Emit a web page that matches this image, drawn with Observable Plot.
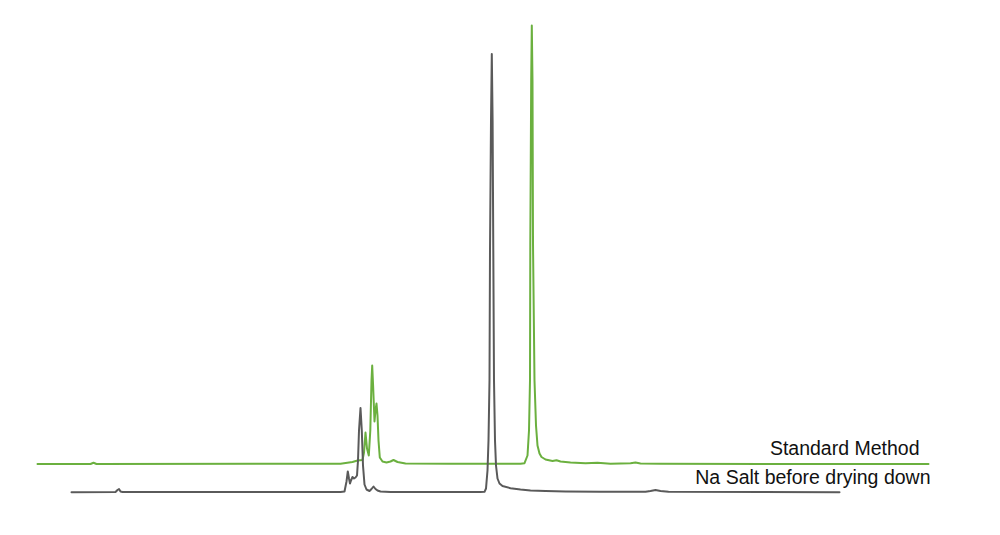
<!DOCTYPE html>
<html>
<head>
<meta charset="utf-8">
<script src="https://cdn.jsdelivr.net/npm/d3@7"></script>
<script src="https://cdn.jsdelivr.net/npm/@observablehq/plot@0.6"></script>
<style>
  html, body { margin: 0; padding: 0; background: #fff; }
  #chart svg { display: block; }
</style>
</head>
<body>
<div id="chart"></div>
<script>
// Series labels
const seriesNames = ["Standard Method", "Na Salt before drying down"];

// Standard Method trace: retention time (s) and detector signal (mV, stacked display)
const standardTime = [
  37, 90, 93, 96, 340, 352, 357, 362, 363.5, 365, 366.5, 368.3, 369.8, 371, 371.7,
  372.6, 374, 375, 376, 377, 378, 379.3, 382, 386, 390, 393, 397, 405, 450, 520,
  524, 527, 528.5, 529.5, 529.8, 530.7, 531.3, 532, 532.5, 534, 535.5, 537, 539,
  541, 545, 552, 556, 560, 570, 585, 597, 610, 630, 635, 640, 660, 928
];
const standardSignal = [
  71.5, 71.5, 72.7, 71.5, 71.7, 73.5, 75, 75.5, 83, 103, 87, 80, 105, 155, 170,
  150, 114, 125, 132, 120, 95, 78, 74, 73, 74, 75.5, 73.5, 72, 71.7, 71.7,
  72.3, 80, 105, 155, 292, 455, 510, 455, 292, 155, 110, 90, 82,
  78.5, 76, 74.5, 75.3, 74, 73, 72.3, 72.7, 71.8, 72.2, 73, 72, 71.7, 71.5
];

// Na Salt before drying down trace
const naSaltTime = [
  71, 115, 117, 118.5, 120, 122, 340, 344, 346, 347.3, 348.5, 349.5, 350.5, 352,
  353.5, 355, 356.5, 357.5, 358.5, 360, 361.3, 362.5, 364, 366, 369, 371, 373, 375,
  377, 380, 390, 480, 484, 485.5, 487, 488, 489, 489.5, 490.5, 491.3, 492.1, 492.8,
  493.5, 494.5, 495.5, 497, 499, 502, 510, 520, 530, 545, 565, 600, 645, 650, 655,
  660, 668, 839
];
const naSaltSignal = [
  43.3, 43.5, 45.5, 46.5, 44, 43.5, 43.5, 44, 54, 64, 57, 52, 55, 58.5,
  57, 58, 60, 75, 105, 127.5, 105, 70, 51, 46, 44.5, 46.5, 49, 46.5,
  45, 44, 43.5, 43.5, 43.7, 47, 65, 95, 155, 285, 415, 481.5, 415, 285,
  155, 95, 70, 57, 52, 49.5, 47.3, 46, 45, 44.5, 44, 43.7, 43.7, 44.5, 45.5,
  44.5, 43.7, 43.3
];

const standardRows = standardTime.map((t, i) => ({time: t, signal: standardSignal[i]}));
const naSaltRows = naSaltTime.map((t, i) => ({time: t, signal: naSaltSignal[i]}));

const labelFont = "'Liberation Sans', Arial, Helvetica, sans-serif";
const endTime = standardTime[standardTime.length - 1];

const chart = Plot.plot({
  width: 1000,
  height: 535,
  margin: 0,
  style: {background: "#fff"},
  x: {domain: [0, 1000], axis: null},
  y: {domain: [0, 535], axis: null},
  marks: [
    Plot.line(standardRows, {x: "time", y: "signal", stroke: "#6bb03f", strokeWidth: 2, curve: "linear"}),
    Plot.line(naSaltRows, {x: "time", y: "signal", stroke: "#5a5a5a", strokeWidth: 2, curve: "linear"}),
    Plot.text([seriesNames[0]], {
      x: endTime, y: standardSignal[standardSignal.length - 1], text: d => d,
      textAnchor: "end", lineAnchor: "bottom", dx: -9, dy: -9.5,
      fontSize: 19.5, fontFamily: labelFont, fill: "#111"
    }),
    Plot.text([seriesNames[1]], {
      x: endTime, y: naSaltSignal[naSaltSignal.length - 1], text: d => d,
      textAnchor: "end", lineAnchor: "bottom", dx: 2, dy: -8.5,
      fontSize: 19.5, fontFamily: labelFont, fill: "#111"
    })
  ]
});
document.getElementById("chart").appendChild(chart);
</script>
</body>
</html>
